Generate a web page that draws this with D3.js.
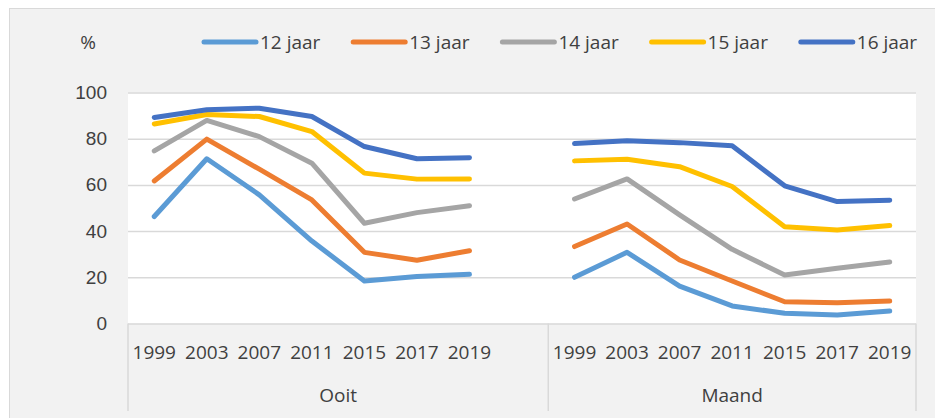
<!DOCTYPE html>
<html>
<head>
<meta charset="utf-8">
<script src="https://cdn.jsdelivr.net/npm/d3@7"></script>
<style>
  body { margin: 0; background: #fff; }
  svg { display: block; font-family: "Open Sans", "Liberation Sans", sans-serif; }
  text { fill: #404040; }
</style>
</head>
<body>
<div id="chart"></div>
<script>
var groups = ["Ooit", "Maand"];
var years = ["1999", "2003", "2007", "2011", "2015", "2017", "2019"];
var seriesNames = ["12 jaar", "13 jaar", "14 jaar", "15 jaar", "16 jaar"];
var colors = ["#5b9bd5", "#ed7d31", "#a5a5a5", "#ffc000", "#4472c4"];
var yTicks = [0, 20, 40, 60, 80, 100];

// values per series, Ooit then Maand
var ooit12 = [46.3, 71.3, 55.7, 35.7, 18.4, 20.3, 21.3];
var ooit13 = [61.7, 79.8, 66.8, 53.5, 30.8, 27.4, 31.5];
var ooit14 = [74.7, 87.9, 80.9, 69.4, 43.4, 48.0, 51.0];
var ooit15 = [86.4, 90.5, 89.6, 83.1, 65.1, 62.5, 62.6];
var ooit16 = [89.2, 92.5, 93.2, 89.6, 76.6, 71.3, 71.8];
var maand12 = [20.0, 30.8, 16.2, 7.6, 4.4, 3.7, 5.4];
var maand13 = [33.3, 43.1, 27.5, 18.4, 9.4, 9.0, 9.7];
var maand14 = [53.9, 62.6, 47.0, 32.1, 21.0, 23.9, 26.6];
var maand15 = [70.4, 71.1, 67.9, 59.3, 41.9, 40.5, 42.4];
var maand16 = [77.9, 79.1, 78.3, 76.9, 59.6, 52.8, 53.4];

var ooit = [ooit12, ooit13, ooit14, ooit15, ooit16];
var maand = [maand12, maand13, maand14, maand15, maand16];

var W = 935, H = 418;
var plot = {left: 128, right: 916, top: 92.5, bottom: 323.5};

var svg = d3.select('#chart').append('svg')
  .attr('width', W)
  .attr('height', H);

// outer chart frame
svg.append('rect')
  .attr('x', 9.5).attr('y', 8.5)
  .attr('width', W).attr('height', H)
  .attr('fill', '#f2f2f2')
  .attr('stroke', '#d9d9d9');

// category keys: 7 years, blank slot, 7 years
var keys = [];
years.forEach(function(y) { keys.push('Ooit|' + y); });
keys.push('Ooit|');
years.forEach(function(y) { keys.push('Maand|' + y); });

var x = d3.scalePoint().domain(keys).range([plot.left, plot.right]).padding(0.5);
var step = x.step();
var y = d3.scaleLinear().domain([0, 100]).range([plot.bottom, plot.top]);

svg.append('rect')
  .attr('x', plot.left).attr('y', plot.top)
  .attr('width', plot.right - plot.left).attr('height', plot.bottom - plot.top)
  .attr('fill', '#fff');

// gridlines + labels
var yAxis = svg.append('g')
  .attr('transform', 'translate(' + plot.left + ',0)')
  .call(d3.axisLeft(y).tickValues(yTicks).tickSize(-(plot.right - plot.left)).tickPadding(21));
yAxis.select('.domain').remove();
yAxis.selectAll('line').attr('stroke', '#d9d9d9').attr('stroke-width', 1.5);
yAxis.selectAll('text').attr('font-size', 19).attr('fill', '#404040');
yAxis.selectAll('.tick').filter(function(d) { return d === 0; }).select('line').attr('stroke', '#d9d9d9');

// category axis
var catBounds = [plot.left, x('Ooit|') + step / 2, plot.right];
svg.selectAll('.catline').data(catBounds).enter().append('line')
  .attr('x1', function(d) { return d; }).attr('x2', function(d) { return d; })
  .attr('y1', plot.bottom).attr('y2', 411)
  .attr('stroke', '#d9d9d9').attr('stroke-width', 1.5);

svg.selectAll('.yearlbl').data(keys.filter(function(k) { return k.split('|')[1] !== ''; }))
  .enter().append('text')
  .attr('x', function(d) { return x(d); })
  .attr('y', 359)
  .attr('text-anchor', 'middle')
  .attr('font-size', 19)
  .text(function(d) { return d.split('|')[1]; });

svg.selectAll('.grplbl').data(groups).enter().append('text')
  .attr('x', function(d, i) { return (catBounds[i] + catBounds[i + 1]) / 2; })
  .attr('y', 402)
  .attr('text-anchor', 'middle')
  .attr('font-size', 19)
  .text(function(d) { return d; });

svg.append('text')
  .attr('x', 88).attr('y', 49)
  .attr('text-anchor', 'middle')
  .attr('font-size', 19)
  .text('%');

// lines
var line = d3.line()
  .x(function(d) { return x(d.key); })
  .y(function(d) { return y(d.value); })
  .curve(d3.curveLinear);

seriesNames.forEach(function(name, i) {
  groups.forEach(function(g) {
    var vals = g === 'Ooit' ? ooit[i] : maand[i];
    var pts = years.map(function(yr, j) { return {key: g + '|' + yr, value: vals[j]}; });
    svg.append('path')
      .datum(pts)
      .attr('d', line)
      .attr('fill', 'none')
      .attr('stroke', colors[i])
      .attr('stroke-width', 5)
      .attr('stroke-linejoin', 'round')
      .attr('stroke-linecap', 'round');
  });
});

// legend
var legend = svg.selectAll('.leg').data(seriesNames).enter().append('g')
  .attr('transform', function(d, i) { return 'translate(' + (204 + i * 149.2) + ',42)'; });
legend.append('line')
  .attr('x1', 0).attr('x2', 52)
  .attr('stroke', function(d, i) { return colors[i]; })
  .attr('stroke-width', 5)
  .attr('stroke-linecap', 'round');
legend.append('text')
  .attr('x', 56).attr('y', 6.5)
  .attr('font-size', 19)
  .text(function(d) { return d; });
</script>
</body>
</html>
